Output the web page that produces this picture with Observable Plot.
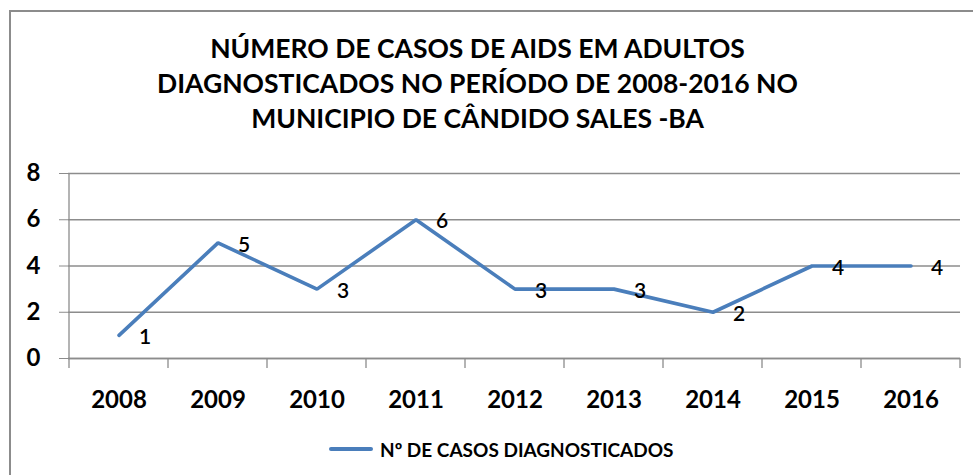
<!DOCTYPE html>
<html>
<head>
<meta charset="utf-8">
<script src="https://cdn.jsdelivr.net/npm/d3@7"></script>
<script src="https://cdn.jsdelivr.net/npm/@observablehq/plot@0.6"></script>
<style>
  html, body { margin: 0; padding: 0; background: #fff; }
  #wrap { position: relative; width: 973px; height: 475px; overflow: hidden; font-family: Lato, "Open Sans", sans-serif; }
  #border { position: absolute; left: 9px; top: 10px; width: 2000px; height: 2000px; border-left: 2px solid #8c8c8c; border-top: 2px solid #8c8c8c; }
  #title { position: absolute; left: 0; top: 31px; width: 955px; text-align: center; font-weight: bold; font-size: 26.5px; line-height: 35px; color: #000; }
  #chart { position: absolute; left: 0; top: 150px; }
  #legend { position: absolute; left: 329px; top: 436px; height: 26px; display: flex; align-items: center; font-weight: bold; font-size: 19px; color: #000; }
  #legend .sw { width: 44px; height: 4px; background: #4a7ebb; margin-right: 7px; border-radius: 2px; }
</style>
</head>
<body>
<div id="wrap">
  <div id="border"></div>
  <div id="title">NÚMERO DE CASOS DE AIDS EM ADULTOS<br>DIAGNOSTICADOS NO PERÍODO DE 2008-2016 NO<br>MUNICIPIO DE CÂNDIDO SALES -BA</div>
  <div id="chart"></div>
  <div id="legend"><span class="sw"></span><span id="legendText"></span></div>
</div>
<script>
const years = ["2008", "2009", "2010", "2011", "2012", "2013", "2014", "2015", "2016"];
const cases = [1, 5, 3, 6, 3, 3, 2, 4, 4];
const yTicks = [0, 2, 4, 6, 8];
const seriesName = "Nº DE CASOS DIAGNOSTICADOS";

document.getElementById("legendText").textContent = seriesName;

const data = years.map((y, i) => ({year: y, value: cases[i]}));
const gray = "#8c8c8c";

const frameMark = (index, scales) => {
  const x = scales.x, y = scales.y;
  const bw = x.bandwidth();
  const edges = years.map(d => x(d)).concat([x(years[years.length - 1]) + bw]);
  const y0 = y(0);
  const g = d3.create("svg:g");
  g.selectAll("line.tk").data(edges).join("line")
    .attr("x1", d => d).attr("x2", d => d)
    .attr("y1", y0).attr("y2", y0 + 10)
    .attr("stroke", gray).attr("stroke-width", 1.3);
  g.append("line")
    .attr("x1", edges[0]).attr("x2", edges[0])
    .attr("y1", y(yTicks[yTicks.length - 1])).attr("y2", y0)
    .attr("stroke", gray).attr("stroke-width", 1.3);
  return g.node();
};

const chart = Plot.plot({
  width: 973,
  height: 280,
  marginTop: 23,
  marginBottom: 72,
  marginLeft: 68,
  marginRight: 13,
  style: {fontFamily: "Lato, 'Open Sans', sans-serif", background: "transparent", overflow: "visible"},
  x: {type: "band", domain: years, padding: 0},
  y: {domain: [0, 8]},
  marks: [
    Plot.gridY(yTicks, {stroke: gray, strokeOpacity: 1, strokeWidth: 1.3}),
    Plot.ruleY([0], {stroke: gray, strokeWidth: 1.3}),
    Plot.axisY(yTicks, {tickSize: 9, tickPadding: 19, stroke: gray, strokeOpacity: 1, fontSize: 24, fontWeight: "bold", fill: "#000", label: null}),
    Plot.axisX(years, {tickSize: 0, tickPadding: 32, fontSize: 24, fontWeight: "bold", fill: "#000", label: null}),
    frameMark,
    Plot.line(data, {x: "year", y: "value", stroke: "#4a7ebb", strokeWidth: 3.6, strokeLinejoin: "miter"}),
    Plot.text(data, {x: "year", y: "value", text: d => String(d.value), dx: 20, dy: 2, textAnchor: "start", fontSize: 21, fontWeight: 600, fill: "#000"})
  ]
});
document.getElementById("chart").appendChild(chart);
</script>
</body>
</html>
